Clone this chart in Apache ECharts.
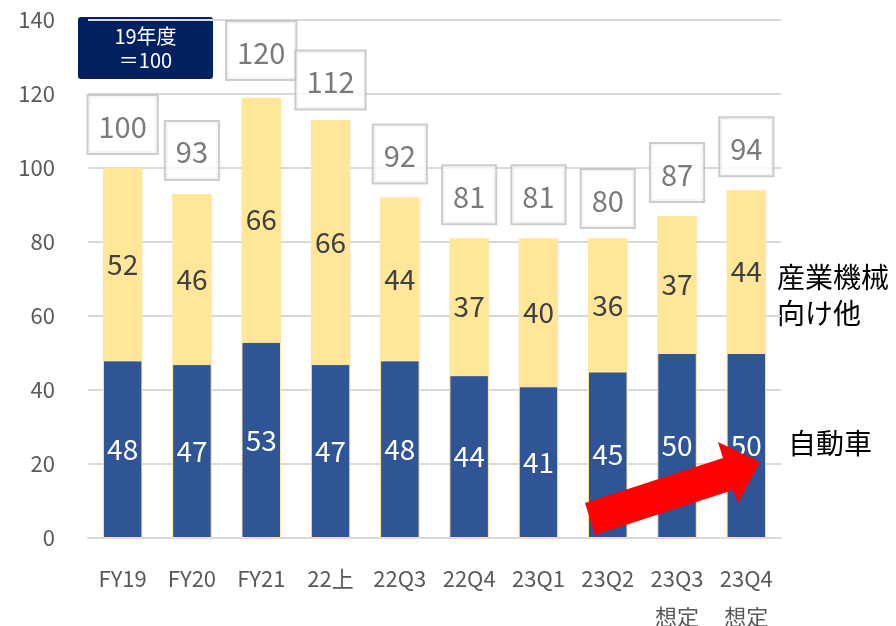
<!DOCTYPE html>
<html>
<head>
<meta charset="utf-8">
<script src="https://cdn.jsdelivr.net/npm/echarts@6/dist/echarts.min.js"></script>
<style>
html, body { margin: 0; padding: 0; background: #fff; }
#chart { width: 896px; height: 626px; }
</style>
</head>
<body>
<div id="chart"></div>
<script>
var categories = ['FY19', 'FY20', 'FY21', '22上', '22Q3', '22Q4', '23Q1', '23Q2', '23Q3\n想定', '23Q4\n想定'];
var autoData = [48, 47, 53, 47, 48, 44, 41, 45, 50, 50];     // 自動車
var industryData = [52, 46, 66, 66, 44, 37, 40, 36, 37, 44]; // 産業機械向け他
var totals = [100, 93, 120, 112, 92, 81, 81, 80, 87, 94];
var yTicks = [0, 20, 40, 60, 80, 100, 120, 140];

var font = '"Noto Sans CJK JP", "Noto Sans", sans-serif';
var myChart = echarts.init(document.getElementById('chart'));

var option = {
    animation: false,
    textStyle: { fontFamily: font },
    grid: { left: 88, right: 115, top: 20, bottom: 88, outerBoundsMode: 'none', containLabel: false },
    xAxis: {
        type: 'category',
        data: categories,
        axisLine: { show: true, lineStyle: { color: '#d9d9d9', width: 2 } },
        axisTick: { show: false },
        axisLabel: {
            color: '#595959', fontSize: 22, margin: 22, lineHeight: 38, interval: 0,
            verticalAlign: 'top', fontFamily: font
        }
    },
    yAxis: {
        type: 'value',
        min: yTicks[0],
        max: yTicks[yTicks.length - 1],
        interval: 20,
        axisLine: { show: false },
        axisTick: { show: false },
        splitLine: { lineStyle: { color: '#d9d9d9', width: 2 } },
        axisLabel: { color: '#595959', fontSize: 22, margin: 33, fontFamily: font }
    },
    series: [{
        name: '自動車',
        type: 'bar',
        stack: 'total',
        barWidth: '57%',
        data: autoData,
        itemStyle: { color: '#2f5597', borderColor: '#ffe699', borderWidth: 1 },
        label: { show: true, position: 'inside', color: '#fff', fontSize: 28, fontFamily: font }
    }, {
        name: '産業機械向け他',
        type: 'bar',
        stack: 'total',
        data: industryData,
        itemStyle: { color: '#ffe699' },
        label: { show: true, position: 'inside', color: '#404040', fontSize: 28, fontFamily: font }
    }, {
        name: '合計',
        type: 'scatter',
        symbolSize: 0,
        data: totals,
        z: 5,
        label: {
            show: true,
            position: 'top',
            distance: 15,
            color: '#595959',
            fontSize: 29,
            fontFamily: font,
            backgroundColor: '#fff',
            borderColor: '#bfbfbf',
            borderWidth: 2,
            padding: [16, 10, 12, 10]
        }
    }],
    graphic: [{
        type: 'rect',
        shape: { x: 78, y: 17, width: 135, height: 62, r: 3 },
        style: { fill: '#002060' }
    }, {
        type: 'text',
        x: 145.5, y: 36,
        style: { text: '19年度', fill: '#fff', font: '20px ' + font, align: 'center', verticalAlign: 'middle' }
    }, {
        type: 'text',
        x: 145.5, y: 60,
        style: { text: '＝100', fill: '#fff', font: '20px ' + font, align: 'center', verticalAlign: 'middle' }
    }, {
        type: 'text',
        x: 777, y: 277,
        style: { text: '産業機械', fill: '#000', font: '28px ' + font, verticalAlign: 'middle' }
    }, {
        type: 'text',
        x: 777, y: 313,
        style: { text: '向け他', fill: '#000', font: '28px ' + font, verticalAlign: 'middle' }
    }, {
        type: 'text',
        x: 788, y: 443,
        style: { text: '自動車', fill: '#000', font: '28px ' + font, verticalAlign: 'middle' }
    }, {
        type: 'polygon',
        z: 10,
        shape: { points: [[585, 503], [723, 458], [718, 442], [760, 462], [738, 503], [733, 490], [595, 535]] },
        style: { fill: '#ff0000' }
    }]
};

myChart.setOption(option);
</script>
</body>
</html>
